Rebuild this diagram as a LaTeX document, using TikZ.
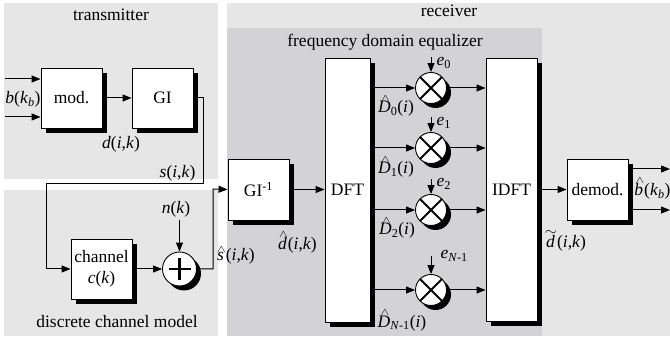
\documentclass[tikz,border=0pt]{standalone}
\usepackage{fontspec}
\usepackage{graphicx}
\setmainfont{Liberation Serif}
\usetikzlibrary{arrows.meta,shadows}
\definecolor{panel}{RGB}{230,230,231}
\definecolor{fde}{RGB}{211,211,213}
\newcommand{\accstack}[3]{\leavevmode\vbox{\offinterlineskip\halign{\hfil##\hfil\cr\hspace*{#3}#1\cr\noalign{\kern0.5pt}\textit{#2}\cr}}}
\newcommand{\hh}[1]{\accstack{\scalebox{0.75}[0.6]{$\wedge$}}{#1}{2pt}}
\newcommand{\tl}[1]{\accstack{\scalebox{0.9}[0.8]{$\sim$}}{#1}{1pt}}
\newcommand{\ik}{(\textit{i},\textit{k})}
\begin{document}
\begin{tikzpicture}[x=1pt,y=-1pt,
  every node/.style={font=\fontsize{17.5}{21}\selectfont},
  conn/.style={line width=1pt,-{Triangle[length=9pt,width=7pt]}},
  blk/.style={draw,fill=white,line width=0.9pt,inner sep=0pt,general shadow={fill=black,shadow xshift=5pt,shadow yshift=-5pt}},
  op/.style={circle,draw,fill=white,line width=0.9pt,inner sep=0pt,general shadow={fill=black,shadow xshift=4.5pt,shadow yshift=-4.5pt}},
  mult/.style={op,minimum size=31pt,path picture={\draw[line width=2pt] (path picture bounding box.north west) -- (path picture bounding box.south east) (path picture bounding box.south west) -- (path picture bounding box.north east);}},
  adder/.style={op,minimum size=34pt,path picture={\draw[line width=2.4pt] ([xshift=-11pt]path picture bounding box.center) -- ([xshift=11pt]path picture bounding box.center) ([yshift=-11pt]path picture bounding box.center) -- ([yshift=11pt]path picture bounding box.center);}},
]
\useasboundingbox (0,0) rectangle (670,339);
% panels
\fill[panel] (4,3) rectangle (218,179);
\fill[panel] (4,190) rectangle (218,336);
\fill[panel] (227,3) rectangle (670,336);
\fill[fde] (227,28) rectangle (542,336);
% panel titles
\node[anchor=base] (ttx) at (111,21) {transmitter};
\node[anchor=base] (tch) at (117,327) {discrete channel model};
\node[anchor=base] (trx) at (449,17) {receiver};
\node[anchor=base] (tfde) at (385,47) {frequency domain equalizer};
% blocks
\node[blk,minimum width=61pt,minimum height=60pt] (mod) at (71.5,98) {mod.};
\node[blk,minimum width=61pt,minimum height=60pt] (gi) at (162.5,98) {GI};
\node[blk,minimum width=61pt,minimum height=60pt,align=center] (chan) at (101.5,269) {channel\\\textit{c}(\textit{k})};
\node[adder] (plus) at (179.5,269) {};
\node[blk,minimum width=61pt,minimum height=61pt] (giinv) at (258.5,189.5) {GI\textsuperscript{-1}};
\node[blk,minimum width=45pt,minimum height=264pt] (dft) at (347.5,190) {DFT};
\node[blk,minimum width=51pt,minimum height=263pt] (idft) at (511.5,189.5) {IDFT};
\node[blk,minimum width=61pt,minimum height=61pt] (demod) at (597.5,189.5) {demod.};
\foreach \i/\y in {0/88,1/148,2/210,3/290} \node[mult] (m\i) at (431,\y) {};
% free ends
\coordinate (in1) at (5,79);
\coordinate (in2) at (5,117);
\coordinate (t1) at (203,184);
\coordinate (t2) at (46,184);
\coordinate (t3) at (213,189);
\coordinate (o1) at (670,169);
\coordinate (o2) at (670,210);
% labels
\node[anchor=base] (lb) at (23,104) {\textit{b}(\textit{k}\textsubscript{\textit{b}})};
\node[anchor=base] (ld) at (121,149) {\textit{d}\ik};
\node[anchor=base east] (ls) at (199,178) {\textit{s}\ik};
\node[anchor=base] (ln) at (176,214) {\textit{n}(\textit{k})};
\node[anchor=base] (lsh) at (235,261) {\hh{s}\ik};
\node[anchor=base] (ldh) at (297,250) {\hh{d}\ik};
\node[anchor=base] (lD0) at (396,113) {\hh{D}\textsubscript{0}(\textit{i})};
\node[anchor=base] (lD1) at (396,174) {\hh{D}\textsubscript{1}(\textit{i})};
\node[anchor=base] (lD2) at (397,235) {\hh{D}\textsubscript{2}(\textit{i})};
\node[anchor=base] (lD3) at (402,327) {\hh{D}\textsubscript{\textit{N}-1}(\textit{i})};
\node[anchor=base west] (le0) at (433,66) {\textit{e}\textsubscript{0}};
\node[anchor=base west] (le1) at (433,126) {\textit{e}\textsubscript{1}};
\node[anchor=base west] (le2) at (433,187) {\textit{e}\textsubscript{2}};
\node[anchor=base west] (le3) at (437,259) {\textit{e}\textsubscript{\textit{N}-1}};
\node[anchor=base] (ldt) at (565,248) {\tl{d}\ik};
\node[anchor=base] (lbh) at (652,196) {\hh{b}(\textit{k}\textsubscript{\textit{b}})};
% connectors
\draw[conn] (in1) -- (in1 -| mod.west);
\draw[conn] (in2) -- (in2 -| mod.west);
\draw[conn] (mod.east) -- (gi.west);
\draw[conn] (gi.east) -| (t1) -- (t2) |- (chan.west);
\draw[conn] (chan.east) -- (plus.west);
\draw[conn] ([yshift=-6pt]plus.north |- ln.base) -- (plus.north);
\draw[conn] (plus.east) -| (t3) -- (giinv.west);
\draw[conn] (giinv.east) -- (giinv.east -| dft.west);
\foreach \i in {0,1,2,3} {
  \draw[conn] (dft.east |- m\i) -- (m\i.west);
  \draw[conn] (m\i.east) -- (m\i.east -| idft.west);
}
\draw[conn] ([yshift=15pt]m0.north) -- (m0.north);
\draw[conn] ([yshift=15pt]m1.north) -- (m1.north);
\draw[conn] ([yshift=15pt]m2.north) -- (m2.north);
\draw[conn] ([yshift=18pt]m3.north) -- (m3.north);
\draw[conn] (idft.east |- demod.west) -- (demod.west);
\draw[conn] (demod.east |- o1) -- (o1);
\draw[conn] (demod.east |- o2) -- (o2);
\end{tikzpicture}
\end{document}
